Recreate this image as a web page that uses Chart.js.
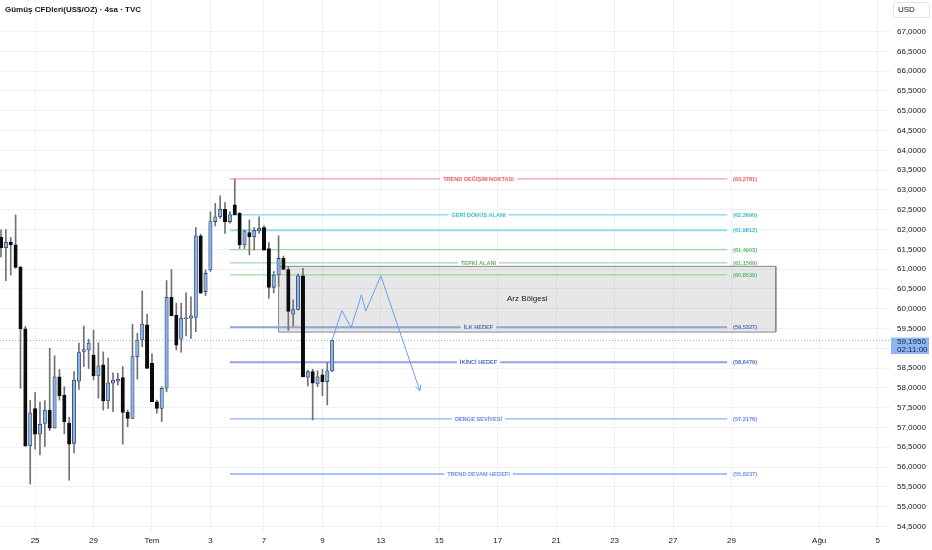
<!DOCTYPE html>
<html><head><meta charset="utf-8">
<script src="https://cdn.jsdelivr.net/npm/chart.js@4.4.1/dist/chart.umd.min.js"></script>
<style>html,body{margin:0;padding:0;background:#fff}#wrap{position:relative;width:932px;height:550px}</style>
</head><body><div id="wrap"><canvas id="c"></canvas></div>
<script>
// ---- data (4h candles, candle index on x) ----
const candleOpen  = [61.80,61.54,61.68,61.61,61.06,59.49,56.54,57.48,56.83,57.10,57.44,56.99,58.28,57.82,57.11,56.60,58.17,58.92,58.96,58.83,58.30,58.58,57.67,58.12,58.17,58.26,57.38,57.23,58.79,59.21,59.59,58.62,57.65,57.48,57.99,60.29,59.84,59.23,59.74,59.76,59.78,61.84,60.43,60.98,62.20,62.32,62.51,62.20,62.62,62.41,61.61,61.92,61.82,61.97,62.05,61.52,60.54,60.85,61.27,60.99,59.86,59.98,60.83,58.27,58.41,58.10,58.33,58.16,58.43];
const candleHigh  = [61.99,62.00,61.80,62.37,61.06,59.55,57.69,57.88,57.64,57.68,59.00,58.81,58.47,58.03,57.26,58.41,59.13,59.56,59.23,59.46,59.14,58.91,58.75,58.38,58.37,58.54,57.44,59.61,59.38,60.45,59.86,58.86,57.69,58.03,60.71,60.99,60.14,60.14,60.40,60.30,62.05,61.88,60.98,62.45,62.66,62.85,62.68,62.45,63.27,62.43,61.99,62.24,62.05,62.32,62.09,61.67,60.94,61.84,61.33,61.06,60.22,60.88,61.02,58.45,58.47,58.43,58.47,58.64,59.21];
const candleLow   = [61.31,60.71,60.85,61.02,57.99,56.53,55.57,56.45,56.31,56.52,56.92,56.98,57.69,56.84,55.67,56.36,57.96,58.54,58.49,58.20,57.74,57.44,57.48,57.40,58.07,56.58,57.02,57.23,58.22,59.04,58.49,57.65,57.36,57.15,57.90,59.82,58.96,58.90,59.31,59.25,59.42,60.39,60.33,60.94,62.09,62.28,61.90,62.16,62.37,61.52,61.52,61.36,61.48,61.90,61.48,60.26,60.40,60.56,60.99,59.45,59.56,59.97,58.28,58.05,57.19,58.03,57.80,57.57,58.41];
const candleClose = [61.54,61.68,61.61,61.04,59.49,56.53,57.37,56.83,57.08,57.44,56.98,58.28,57.80,57.15,56.58,58.20,58.89,58.97,59.13,58.30,58.56,57.67,58.13,58.20,58.22,57.38,57.23,58.79,59.21,59.61,58.49,57.65,57.48,57.99,60.29,59.82,59.08,59.76,59.77,59.82,61.84,60.39,60.89,62.20,62.32,62.51,62.20,62.37,62.37,61.61,61.95,61.82,61.97,62.03,61.48,60.54,60.85,61.27,60.99,59.93,59.98,60.83,58.28,58.41,58.12,58.28,58.16,58.43,59.195];

const xTickIndex  = [7,19,31,43,54,66,78,90,102,114,126,138,150,168,180];
const xTickLabels = ['25','29','Tem','3','7','9','13','15','17','21','23','27','29','Ağu','5'];
const yTickValues = [54.5,55,55.5,56,56.5,57,57.5,58,58.5,59,59.5,60,60.5,61,61.5,62,62.5,63,63.5,64,64.5,65,65.5,66,66.5,67];

const levelValues = [63.2781,62.3690,61.9812,61.4903,61.1569,60.8539,59.5327,58.6479,57.2176,55.8237];
const levelNames  = ['TREND DEĞİŞİM NOKTASI','GERİ DÖNÜŞ ALANI','','','TEPKİ ALANI','','İLK HEDEF','İKİNCİ HEDEF','DENGE SEVİYESİ','TREND DEVAM HEDEFİ'];
const levelSpan   = [47, 149.1];           // candle-index range of level lines

const zoneBounds  = [59.41, 61.07];        // price range of supply zone
const zoneSpan    = [57, 159.1];
const zoneLabel   = 'Arz Bölgesi';

const pathIndex   = [68,70,71.9,74,74.9,78,86];
const pathPrice   = [59.21,59.95,59.52,60.35,59.94,60.83,57.93];

const lastPrice   = 59.195;
const countdown   = '02:11:00';
const titleText   = 'Gümüş CFDleri(US$/OZ) · 4sa · TVC';
const currency    = 'USD';

// ---- styles ----
const levelLineColors = ['#f7868c','#5fcfdf','#8fdfe8','#8bd08f','#8bd08f','#8bd08f','#8ea6dc','#8ea6dc','#7a9cf3','#a6c2f8'];
const levelLineWidths = [1,1,2,1,1,1,2,2,1,2];
const levelTextColors = ['#ef5a62','#33bfd4','#33bfd4','#5cb862','#5cb862','#5cb862','#4f6fc0','#4f6fc0','#5b86ee','#6a92ef'];
const FONT = '"Liberation Sans", Arial, sans-serif';
const X_MIN = -0.2053, X_MAX = 182.546, Y_MIN = 54.361, Y_MAX = 67.7955;

const bull = candleOpen.map((o,i)=>candleClose[i]>=o);
const wickData = candleOpen.map((o,i)=>({x:i, y:[candleLow[i], candleHigh[i]]}));
const bodyData = candleOpen.map((o,i)=>({x:i, y:[o, candleClose[i]]}));

const datasets = [];
datasets.push({type:'line', order:20, data:[{x:zoneSpan[0],y:zoneBounds[1]},{x:zoneSpan[1],y:zoneBounds[1]}],
  fill:{value:zoneBounds[0]}, backgroundColor:'rgba(110,110,110,0.17)', borderWidth:0, pointRadius:0});
datasets.push({type:'line', order:19, data:[{x:zoneSpan[0],y:zoneBounds[1]},{x:zoneSpan[1],y:zoneBounds[1]},{x:zoneSpan[1],y:zoneBounds[0]},{x:zoneSpan[0],y:zoneBounds[0]},{x:zoneSpan[0],y:zoneBounds[1]}],
  fill:false, borderColor:'#8e8290', borderWidth:1, pointRadius:0});
levelValues.forEach((v,i)=>{
  datasets.push({type:'line', order:15, data:[{x:levelSpan[0],y:v},{x:levelSpan[1],y:v}], fill:false,
    borderColor:levelLineColors[i], borderWidth:levelLineWidths[i], pointRadius:0});
});
datasets.push({type:'line', order:14, data:[{x:X_MIN,y:lastPrice},{x:X_MAX,y:lastPrice}], fill:false,
  borderColor:'#86aef0', borderWidth:1, borderDash:[1,2], pointRadius:0});
datasets.push({type:'bar', order:5, data:wickData, grouped:false, barThickness:1, backgroundColor:'#727272', borderWidth:0});
datasets.push({type:'bar', order:4, data:bodyData, grouped:false, barThickness:3.4, minBarLength:1,
  backgroundColor:bull.map(b=>b?'#8bb4ee':'#0b0b0b'), borderColor:bull.map(b=>b?'#33405a':'#0b0b0b'), borderWidth:0.8, borderSkipped:false});
datasets.push({type:'line', order:1, data:pathIndex.map((x,i)=>({x, y:pathPrice[i]})), fill:false,
  borderColor:'#6d9cf7', borderWidth:1, pointRadius:0, tension:0});

const fmt = v => v.toFixed(4).replace('.', ',');

const overlay = {
  id:'overlay',
  afterDatasetsDraw(chart){
    const {ctx, scales:{x, y}, chartArea} = chart;
    ctx.save();
    // level labels
    levelValues.forEach((v,i)=>{
      const py = y.getPixelForValue(v);
      ctx.font = '600 5.6px ' + FONT;
      ctx.textBaseline = 'middle';
      if (levelNames[i]) {
        const cx = x.getPixelForValue((levelSpan[0]+levelSpan[1])/2);
        const w = ctx.measureText(levelNames[i]).width;
        const inZone = v > zoneBounds[0] && v < zoneBounds[1];
        ctx.fillStyle = inZone ? '#e6e6e6' : '#ffffff';
        ctx.fillRect(cx - w/2 - 3, py - 2.5, w + 6, 5);
        ctx.fillStyle = levelTextColors[i];
        ctx.textAlign = 'center';
        ctx.fillText(levelNames[i], cx, py + 0.5);
      }
      ctx.fillStyle = levelTextColors[i];
      ctx.textAlign = 'left';
      ctx.fillText('(' + fmt(v) + ')', x.getPixelForValue(levelSpan[1]) + 6, py + 0.5);
    });
    // zone label
    ctx.font = '8px ' + FONT;
    ctx.fillStyle = '#131722';
    ctx.textAlign = 'center';
    ctx.textBaseline = 'middle';
    ctx.fillText(zoneLabel, x.getPixelForValue((zoneSpan[0]+zoneSpan[1])/2), y.getPixelForValue((zoneBounds[0]+zoneBounds[1])/2));
    // arrow head
    const n = pathIndex.length;
    const ex = x.getPixelForValue(pathIndex[n-1]), ey = y.getPixelForValue(pathPrice[n-1]);
    const sx = x.getPixelForValue(pathIndex[n-2]), sy = y.getPixelForValue(pathPrice[n-2]);
    const ang = Math.atan2(ey - sy, ex - sx);
    ctx.strokeStyle = '#6d9cf7'; ctx.lineWidth = 1;
    ctx.beginPath();
    ctx.moveTo(ex - 6*Math.cos(ang - 0.5), ey - 6*Math.sin(ang - 0.5));
    ctx.lineTo(ex, ey);
    ctx.lineTo(ex - 6*Math.cos(ang + 0.5), ey - 6*Math.sin(ang + 0.5));
    ctx.stroke();
    // title
    ctx.font = '600 8px ' + FONT;
    ctx.fillStyle = '#131722';
    ctx.textAlign = 'left';
    ctx.fillText(titleText, 5, 10);
    // current price label
    const py = y.getPixelForValue(lastPrice);
    const lx = chartArea.right + 1;
    ctx.fillStyle = '#8fb5f2';
    ctx.fillRect(lx, py - 3, 38, 16.5);
    ctx.fillStyle = '#13223f';
    ctx.font = '8px ' + FONT;
    ctx.textAlign = 'left';
    ctx.fillText(fmt(lastPrice), lx + 6, py + 1.2);
    ctx.fillText(countdown, lx + 6, py + 8.8);
    // currency box
    ctx.strokeStyle = '#e0e3eb';
    ctx.lineWidth = 1;
    ctx.beginPath();
    if (ctx.roundRect) ctx.roundRect(893.5, 2.5, 36, 15, 2); else ctx.rect(893.5, 2.5, 36, 15);
    ctx.stroke();
    ctx.fillStyle = '#131722';
    ctx.fillText(currency, 898, 10);
    ctx.restore();
  }
};

function zeroPad(scale){ scale.paddingTop = 0; scale.paddingBottom = 0; scale.paddingLeft = 0; scale.paddingRight = 0; }

new Chart(document.getElementById('c'), {
  type:'bar',
  data:{datasets},
  options:{
    responsive:true, maintainAspectRatio:false, animation:false,
    layout:{padding:0},
    plugins:{legend:{display:false}, tooltip:{enabled:false}, title:{display:false}},
    scales:{
      x:{type:'linear', min:X_MIN, max:X_MAX, offset:false,
        grid:{offset:false, color:'#f1f1f3', drawTicks:false},
        border:{display:false},
        afterBuildTicks:s=>{ s.ticks = xTickIndex.map(v=>({value:v})); },
        afterFit:s=>{ s.height = 18; zeroPad(s); },
        ticks:{autoSkip:false, maxRotation:0, padding:4, color:'#131722', font:{size:8, family:FONT},
          callback:v=>xTickLabels[xTickIndex.indexOf(v)]}},
      y:{type:'linear', position:'right', min:Y_MIN, max:Y_MAX,
        grid:{color:'#f1f1f3', drawTicks:false},
        border:{display:false},
        afterBuildTicks:s=>{ s.ticks = yTickValues.map(v=>({value:v})); },
        afterFit:s=>{ s.width = 42; zeroPad(s); },
        ticks:{autoSkip:false, padding:7, color:'#131722', font:{size:8, family:FONT}, callback:v=>fmt(v)}}
    }
  },
  plugins:[overlay]
});
</script></body></html>
